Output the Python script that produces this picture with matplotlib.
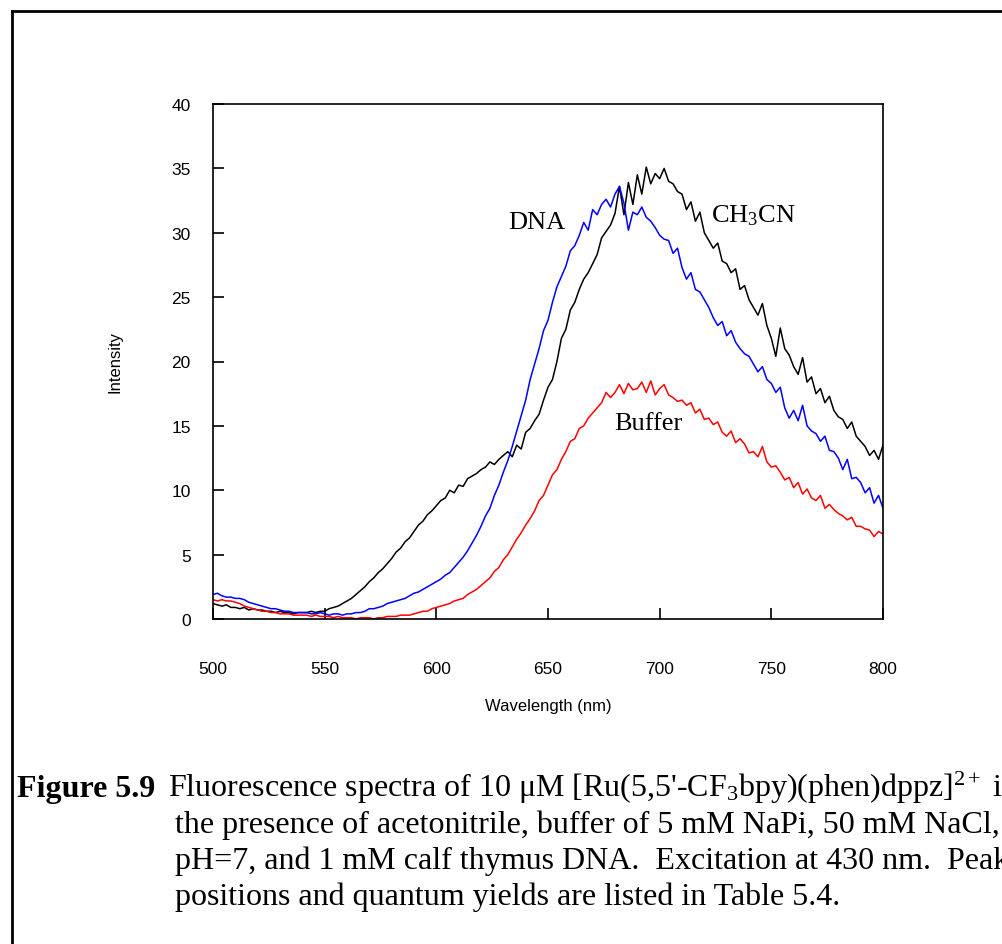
import numpy as np
import matplotlib
matplotlib.use("Agg")
import matplotlib.pyplot as plt
from matplotlib.lines import Line2D

plt.rcParams['mathtext.fontset'] = 'custom'
plt.rcParams['mathtext.rm'] = 'Liberation Serif'
plt.rcParams['mathtext.it'] = 'Liberation Serif:italic'
plt.rcParams['mathtext.bf'] = 'Liberation Serif:bold'

# Wavelength grid (nm), 2 nm steps
wavelength = np.arange(500, 801, 2)

ch3cn = [1.2, 1.1, 1.0, 1.1, 0.9, 0.9, 0.8, 0.9, 0.7, 0.8, 0.7,
         0.7, 0.6, 0.6, 0.5, 0.6, 0.5, 0.5, 0.4, 0.5, 0.5,
         0.5, 0.6, 0.5, 0.6, 0.6, 0.8, 0.9, 1.0, 1.2, 1.4,
         1.6, 1.9, 2.2, 2.5, 2.9, 3.2, 3.6, 3.9, 4.3, 4.7,
         5.2, 5.5, 6.0, 6.3, 6.8, 7.3, 7.6, 8.1, 8.4, 8.8,
         9.2, 9.4, 10.0, 9.8, 10.4, 10.3, 10.9, 11.1, 11.3, 11.6,
         11.8, 12.2, 12.0, 12.4, 12.7, 13.0, 12.6, 13.5, 13.2, 14.5,
         14.8, 15.4, 15.9, 17.0, 18.0, 18.6, 20.0, 21.8, 22.5, 24.0,
         24.6, 25.6, 26.4, 26.9, 27.6, 28.3, 29.6, 30.1, 30.6, 31.5,
         33.6, 31.4, 33.9, 32.2, 34.5, 33.0, 35.1, 33.8, 34.6, 34.2,
         35.0, 34.0, 33.8, 33.2, 33.0, 31.8, 32.4, 30.9, 31.6, 30.0,
         29.4, 28.8, 29.2, 27.8, 27.6, 26.9, 27.2, 25.6, 25.9, 24.8,
         24.2, 23.6, 24.5, 22.8, 21.8, 20.4, 22.6, 21.0, 20.5, 19.6,
         19.0, 20.3, 18.4, 18.8, 17.5, 17.9, 16.8, 17.3, 16.2, 15.7,
         15.5, 14.8, 15.3, 14.2, 13.8, 13.4, 12.7, 13.1, 12.4, 13.5]

dna = [1.9, 2.0, 1.8, 1.7, 1.7, 1.6, 1.6, 1.5, 1.3, 1.2, 1.1,
       1.0, 0.9, 0.8, 0.8, 0.7, 0.6, 0.6, 0.5, 0.5, 0.5,
       0.5, 0.4, 0.4, 0.5, 0.4, 0.3, 0.4, 0.4, 0.3, 0.4,
       0.4, 0.5, 0.5, 0.6, 0.8, 0.8, 0.9, 1.0, 1.2, 1.3,
       1.4, 1.5, 1.6, 1.8, 2.0, 2.1, 2.3, 2.5, 2.7, 2.9,
       3.1, 3.4, 3.6, 4.0, 4.4, 4.8, 5.3, 5.9, 6.5, 7.2,
       8.0, 8.6, 9.6, 10.4, 11.4, 12.3, 13.4, 14.6, 15.8, 17.0,
       18.6, 19.8, 21.0, 22.4, 23.2, 24.6, 25.8, 26.6, 27.4, 28.6,
       29.0, 29.8, 30.8, 30.2, 31.8, 31.4, 32.2, 32.6, 32.0, 33.0,
       33.6, 32.3, 30.2, 31.6, 31.4, 32.0, 31.2, 30.9, 30.4, 29.8,
       29.5, 29.4, 28.4, 28.8, 27.3, 26.4, 26.9, 25.6, 25.4, 24.8,
       24.2, 23.4, 22.8, 23.1, 22.0, 22.4, 21.5, 21.0, 20.6, 20.4,
       19.8, 19.2, 19.6, 18.6, 18.3, 17.6, 18.0, 16.4, 15.6, 16.2,
       15.4, 16.6, 15.0, 14.6, 14.4, 13.8, 14.2, 13.1, 13.0, 12.5,
       11.6, 12.4, 10.9, 11.0, 10.6, 9.8, 10.2, 9.0, 9.6, 8.6]

buffer_ = [1.5, 1.4, 1.5, 1.4, 1.4, 1.3, 1.2, 1.0, 0.9, 0.8, 0.7,
           0.6, 0.6, 0.5, 0.5, 0.4, 0.4, 0.4, 0.3, 0.3, 0.3,
           0.3, 0.2, 0.3, 0.2, 0.2, 0.2, 0.1, 0.2, 0.1, 0.1,
           0.1, 0.0, 0.1, 0.1, 0.1, 0.0, 0.1, 0.1, 0.2, 0.2,
           0.2, 0.3, 0.3, 0.3, 0.4, 0.5, 0.6, 0.6, 0.8, 0.9,
           1.0, 1.1, 1.2, 1.4, 1.5, 1.6, 1.9, 2.1, 2.3, 2.6,
           2.9, 3.2, 3.7, 4.0, 4.6, 5.0, 5.6, 6.2, 6.7, 7.3,
           7.8, 8.4, 9.2, 9.6, 10.4, 11.2, 11.6, 12.4, 13.0, 13.8,
           14.0, 14.8, 15.0, 15.6, 16.0, 16.4, 16.8, 17.6, 17.2, 17.6,
           18.2, 17.5, 18.3, 17.8, 17.9, 18.4, 17.6, 18.5, 17.4, 17.9,
           18.2, 17.4, 17.2, 16.9, 17.0, 16.6, 16.8, 16.0, 16.3, 15.5,
           15.6, 15.1, 15.3, 14.5, 14.2, 14.6, 13.7, 14.0, 13.6, 12.9,
           13.0, 12.6, 13.4, 12.2, 11.8, 11.9, 11.4, 10.8, 11.0, 10.2,
           10.6, 9.7, 10.1, 9.4, 9.2, 9.6, 8.6, 8.9, 8.5, 8.2,
           8.0, 7.7, 7.9, 7.2, 7.2, 7.0, 6.9, 6.4, 6.8, 6.6]

xticks = [500, 550, 600, 650, 700, 750, 800]
yticks = [0, 5, 10, 15, 20, 25, 30, 35, 40]

W, H = 1003, 945
fig = plt.figure(figsize=(W / 100, H / 100), dpi=100)
ax = fig.add_axes([213 / W, 1 - 620 / H, 670 / W, 515 / H])

ax.plot(wavelength, ch3cn, color='black', lw=1.1)
ax.plot(wavelength, dna, color='#0000ff', lw=1.1)
ax.plot(wavelength, buffer_, color='#ff0000', lw=1.1)

ax.set_xlim(500, 800)
ax.set_ylim(0, 40)
ax.set_xticks(xticks)
ax.set_yticks(yticks)
for s in ax.spines.values():
    s.set_linewidth(1.2)
ax.tick_params(axis='x', direction='in', length=8, width=1.2, pad=30, labelsize=12.5)
ax.tick_params(axis='y', direction='in', length=8, width=1.2, pad=16, labelsize=12.5)
for lab in ax.get_xticklabels() + ax.get_yticklabels():
    lab.set_family('Liberation Sans')
ax.set_xlabel("Wavelength (nm)", family='Liberation Sans', fontsize=12, labelpad=16)
ax.set_ylabel("Intensity", family='Liberation Sans', fontsize=12, labelpad=35)

serif = 'Liberation Serif'
ax.text(645, 30.8, "DNA", family=serif, fontsize=19, ha='center', va='center')
ax.text(742, 31.4, "CH$_3$CN", family=serif, fontsize=19, ha='center', va='center')
ax.text(695, 15.2, "Buffer", family=serif, fontsize=19, ha='center', va='center')

# outer frame (left and top edges visible)
fig.add_artist(Line2D([12 / W, 12 / W], [0, 1 - 12 / H], color='black', lw=2))
fig.add_artist(Line2D([12 / W, 1], [1 - 12 / H, 1 - 12 / H], color='black', lw=2))

# caption
cap = 23
fig.text(17 / W, 1 - 797 / H, "Figure 5.9", family=serif, weight='bold', fontsize=cap, va='baseline')
fig.text(168 / W, 1 - 797 / H,
         "Fluorescence spectra of 10 \u03bcM [Ru(5,5'-CF$_3$bpy)(phen)dppz]$^{2+}$ in",
         family=serif, fontsize=cap, va='baseline')
lines = ["the presence of acetonitrile, buffer of 5 mM NaPi, 50 mM NaCl,",
         "pH=7, and 1 mM calf thymus DNA.  Excitation at 430 nm.  Peak",
         "positions and quantum yields are listed in Table 5.4."]
for i, t in enumerate(lines):
    fig.text(175 / W, 1 - (833 + 36 * i) / H, t, family=serif, fontsize=cap, va='baseline')

fig.savefig("out.png", dpi=100)
